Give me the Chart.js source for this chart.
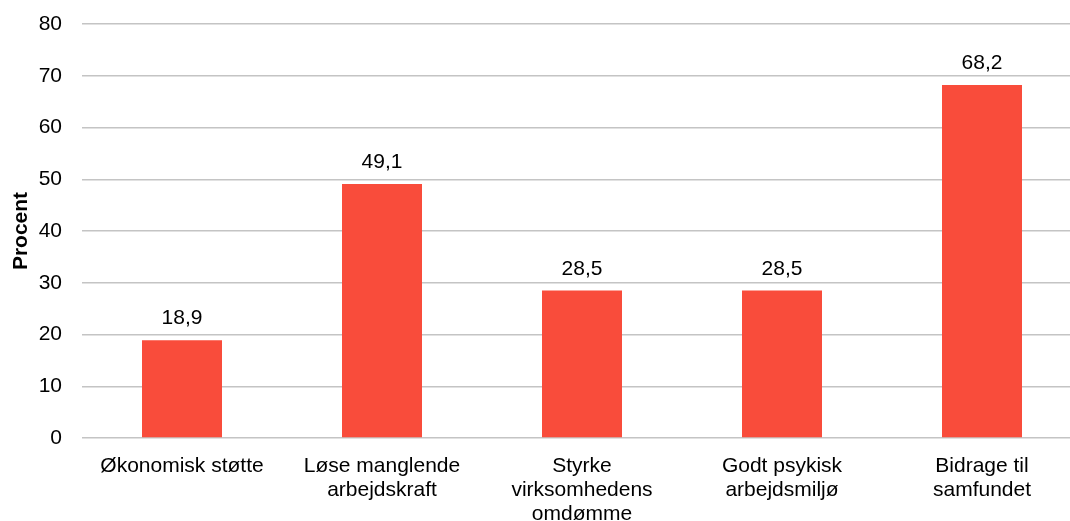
<!DOCTYPE html>
<html>
<head>
<meta charset="utf-8">
<script src="https://cdn.jsdelivr.net/npm/chart.js@4"></script>
<style>
  html, body { margin: 0; padding: 0; background: #ffffff; overflow: hidden; }
  #wrap { width: 1082px; height: 521px; position: relative; }
</style>
</head>
<body>
<div id="wrap"><canvas id="chart"></canvas></div>
<script>
'use strict';

// ── Data ────────────────────────────────────────────────
const categories = [
    ['Økonomisk støtte'],
    ['Løse manglende', 'arbejdskraft'],
    ['Styrke', 'virksomhedens', 'omdømme'],
    ['Godt psykisk', 'arbejdsmiljø'],
    ['Bidrage til', 'samfundet']
];
const values = [18.9, 49.1, 28.5, 28.5, 68.2];
const yTicks = [0, 10, 20, 30, 40, 50, 60, 70, 80];

const FONT = '"Liberation Sans", Arial, sans-serif';

// Value labels above each bar (comma decimal)
const valueLabels = {
    id: 'valueLabels',
    afterDatasetsDraw(chart) {
        const ctx = chart.ctx;
        const meta = chart.getDatasetMeta(0);
        ctx.save();
        ctx.font = '21px ' + FONT;
        ctx.fillStyle = '#000000';
        ctx.textAlign = 'center';
        ctx.textBaseline = 'alphabetic';
        meta.data.forEach((bar, i) => {
            const txt = values[i].toFixed(1).replace('.', ',');
            ctx.fillText(txt, bar.x, bar.y - 16);
        });
        ctx.restore();
    }
};

new Chart(document.getElementById('chart').getContext('2d'), {
    type: 'bar',
    data: {
        labels: categories,
        datasets: [{
            data: values,
            backgroundColor: '#F94C3B',
            borderWidth: 0,
            barPercentage: 0.4,
            categoryPercentage: 1.0
        }]
    },
    options: {
        responsive: true,
        maintainAspectRatio: false,
        animation: false,
        layout: { padding: { top: 24, right: 0, bottom: 0, left: 0 } },
        plugins: {
            legend: { display: false },
            tooltip: { enabled: false }
        },
        scales: {
            x: {
                grid: { display: false },
                border: { display: false },
                ticks: {
                    color: '#000000',
                    font: { family: FONT, size: 21, lineHeight: 1.15 },
                    padding: 8,
                    maxRotation: 0,
                    autoSkip: false
                },
                afterFit: s => { s.height = 83; s.paddingTop = 0; s.paddingRight = 0; }
            },
            y: {
                min: 0,
                max: 80,
                afterBuildTicks: s => { s.ticks = yTicks.map(v => ({ value: v })); },
                grid: { color: '#C4C4C4', lineWidth: 1.5, drawTicks: false },
                border: { display: false },
                ticks: {
                    color: '#000000',
                    font: { family: FONT, size: 21 },
                    padding: 20
                },
                title: {
                    display: true,
                    text: 'Procent',
                    color: '#000000',
                    font: { family: FONT, size: 21, weight: 'bold' },
                    padding: { top: 9, bottom: 0 }
                },
                afterFit: s => { s.width = 82; s.paddingTop = 0; }
            }
        }
    },
    plugins: [valueLabels]
});
</script>
</body>
</html>
